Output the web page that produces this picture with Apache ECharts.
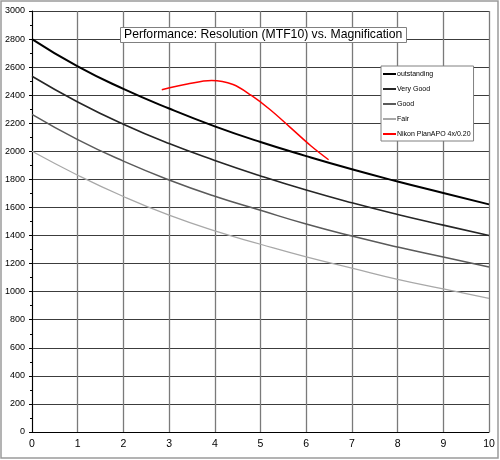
<!DOCTYPE html>
<html>
<head>
<meta charset="utf-8">
<script src="https://cdn.jsdelivr.net/npm/echarts@6/dist/echarts.min.js"></script>
<style>html,body{margin:0;padding:0;background:#fff}#c{width:500px;height:460px}</style>
</head>
<body>
<div id="c"></div>
<script>
var magnification = [0, 1, 2, 3, 4, 5, 6, 7, 8, 9, 10];
var outstanding = [2800, 2605, 2445, 2305, 2178, 2066, 1966, 1872, 1785, 1703, 1622];
var veryGood = [2535, 2352, 2193, 2055, 1935, 1825, 1724, 1633, 1550, 1474, 1400];
var good = [2264, 2084, 1930, 1796, 1680, 1580, 1482, 1396, 1318, 1247, 1176];
var fair = [2000, 1830, 1678, 1545, 1433, 1338, 1248, 1168, 1088, 1020, 952];
var nikonX = [2.84, 3.4, 3.93, 4.4, 4.8, 5.2, 5.65, 6.1, 6.49];
var nikonY = [2439, 2480, 2505, 2476, 2398, 2300, 2171, 2040, 1940];
var seriesNames = ['outstanding', 'Very Good', 'Good', 'Fair', 'Nikon PlanAPO 4x/0.20'];
var titleText = 'Performance: Resolution (MTF10) vs. Magnification';

function pairs(xs, ys) { return xs.map(function (x, i) { return [x, ys[i]]; }); }

var chart = echarts.init(document.getElementById('c'), null, { renderer: 'canvas' });
var font = 'Arial, "Liberation Sans", sans-serif';
var colors = ['#000000', '#262626', '#5a5a5a', '#a8a8a8', '#ff0000'];
var widths = [2, 1.6, 1.5, 1.2, 1.5];
var smooths = [true, true, true, true, 0.35];
var datasets = [
  pairs(magnification, outstanding),
  pairs(magnification, veryGood),
  pairs(magnification, good),
  pairs(magnification, fair),
  pairs(nikonX, nikonY)
];

chart.setOption({
  animation: false,
  backgroundColor: '#ffffff',
  title: {
    text: titleText,
    left: 120,
    top: 27,
    padding: [1, 4, 1, 4],
    borderColor: '#808080',
    borderWidth: 1,
    backgroundColor: '#ffffff',
    textStyle: { fontFamily: font, fontSize: 12.2, fontWeight: 'normal', color: '#000', lineHeight: 14 }
  },
  legend: {
    orient: 'vertical',
    left: 381,
    top: 66,
    padding: [3, 3, 2, 2],
    itemGap: 5,
    itemWidth: 13,
    itemHeight: 2,
    icon: 'rect',
    borderColor: '#808080',
    borderWidth: 1,
    backgroundColor: '#ffffff',
    textStyle: { fontFamily: font, fontSize: 7, color: '#000', padding: [0, 0, 0, -4], lineHeight: 10 },
    data: seriesNames.map(function (n, i) { return { name: n, itemStyle: { color: colors[i] } }; })
  },
  graphic: [{
    type: 'rect', silent: true, z: 100,
    shape: { x: 1, y: 1, width: 497, height: 457 },
    style: { fill: null, stroke: '#9a9a9a', lineWidth: 1.5 }
  }],
  grid: { left: 32, right: 11, top: 11, bottom: 28, containLabel: false },
  xAxis: {
    type: 'value', min: 0, max: 10, interval: 1,
    axisLine: { show: true, lineStyle: { color: '#000', width: 1 } },
    axisTick: { show: false },
    axisLabel: { fontFamily: font, fontSize: 10.5, color: '#000', margin: 7 },
    splitLine: { show: true, lineStyle: { color: '#7a7a7a', width: 1.3 } }
  },
  yAxis: {
    type: 'value', min: 0, max: 3000, interval: 200,
    axisLine: { show: true, lineStyle: { color: '#000', width: 1 } },
    axisTick: { show: true, length: 3, lineStyle: { color: '#000' } },
    minorTick: { show: true, splitNumber: 2, length: 2, lineStyle: { color: '#000' } },
    axisLabel: { fontFamily: font, fontSize: 9, color: '#000', margin: 7, formatter: function (v) { return String(v); } },
    splitLine: { show: true, lineStyle: { color: '#3c3c3c', width: 1 } }
  },
  series: seriesNames.map(function (n, i) {
    return {
      name: n, type: 'line', smooth: smooths[i], showSymbol: false, symbol: 'none',
      data: datasets[i],
      lineStyle: { color: colors[i], width: widths[i] },
      itemStyle: { color: colors[i] },
      z: 5 - i
    };
  })
});
</script>
</body>
</html>
